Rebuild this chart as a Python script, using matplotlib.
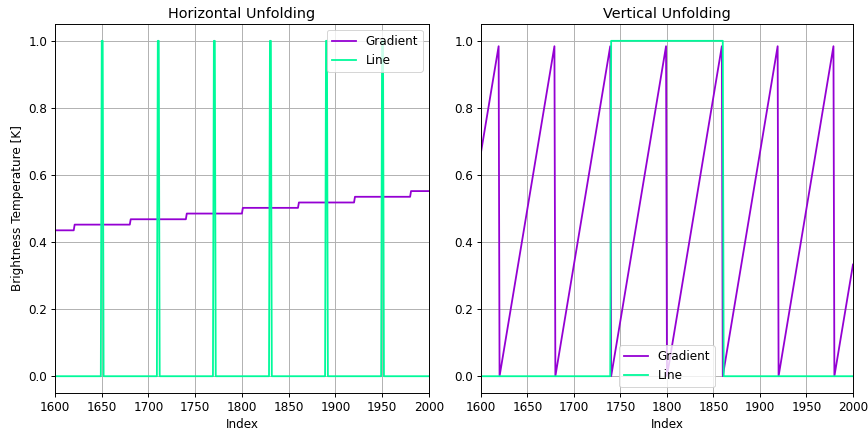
import numpy as np
import matplotlib
matplotlib.use("Agg")
import matplotlib.pyplot as plt

# --- data ---
# horizontal unfolding: gradient is a staircase, line is narrow spikes
step_edges = [1600, 1620, 1680, 1740, 1800, 1860, 1920, 1980, 2000]
step_levels = [0.435, 0.452, 0.468, 0.485, 0.502, 0.518, 0.535, 0.552]
spike_centers = [1650, 1710, 1770, 1830, 1890, 1950]
spike_height = 1.0

# vertical unfolding: sawtooth gradient, box-shaped line
saw_x = [1600, 1619, 1620, 1679, 1680, 1739, 1740, 1799, 1800, 1859, 1860,
         1919, 1920, 1979, 1980, 2000]
saw_y = [0.667, 0.984, 0.0, 0.984, 0.0, 0.984, 0.0, 0.984, 0.0, 0.984, 0.0,
         0.984, 0.0, 0.984, 0.0, 0.333]
box_x = [1600, 1739, 1740, 1860, 1861, 2000]
box_y = [0.0, 0.0, 1.0, 1.0, 0.0, 0.0]

grad_color = "darkviolet"
line_color = "mediumspringgreen"

# reference looks like a default figure scaled up ~1.2x
s = 1.2
plt.rcParams.update({
    "font.size": 10 * s,
    "lines.linewidth": 1.5 * s,
    "axes.linewidth": 0.8 * s,
    "grid.linewidth": 0.8 * s,
    "xtick.major.size": 3.5 * s,
    "ytick.major.size": 3.5 * s,
    "xtick.major.width": 0.8 * s,
    "ytick.major.width": 0.8 * s,
})


def stair_vertices(edges, levels):
    """Staircase with one-index ramps between levels"""
    xs, ys = [], []
    for i, lv in enumerate(levels):
        x0 = edges[i] if i == 0 else edges[i] + 1
        xs += [x0, edges[i + 1]]
        ys += [lv, lv]
    return xs, ys


def spike_vertices(centers, h, lo=1600, hi=2000):
    xs, ys = [lo], [0.0]
    for c in centers:
        xs += [c - 1, c, c + 1, c + 2]
        ys += [0.0, h, h, 0.0]
    xs.append(hi)
    ys.append(0.0)
    return xs, ys


fig = plt.figure(figsize=(868 / 72, 432 / 72), dpi=72)
ax1 = fig.add_axes([0.0634, 0.0903, 0.4306, 0.854])
ax2 = fig.add_axes([0.5541, 0.0903, 0.4286, 0.854])

gx, gy = stair_vertices(step_edges, step_levels)
lx, ly = spike_vertices(spike_centers, spike_height)
ax1.plot(gx, gy, color=grad_color, label="Gradient")
ax1.plot(lx, ly, color=line_color, label="Line")
ax1.set_title("Horizontal Unfolding")
ax1.set_xlabel("Index")
ax1.set_ylabel("Brightness Temperature [K]")
ax1.legend(loc="upper right")

ax2.plot(saw_x, saw_y, color=grad_color, label="Gradient")
ax2.plot(box_x, box_y, color=line_color, label="Line")
ax2.set_title("Vertical Unfolding")
ax2.set_xlabel("Index")
ax2.legend(loc="lower center")

for ax in (ax1, ax2):
    ax.set_xlim(1600, 2000)
    ax.set_ylim(-0.05, 1.05)
    ax.grid(True)

fig.savefig("out.png", dpi=72)
